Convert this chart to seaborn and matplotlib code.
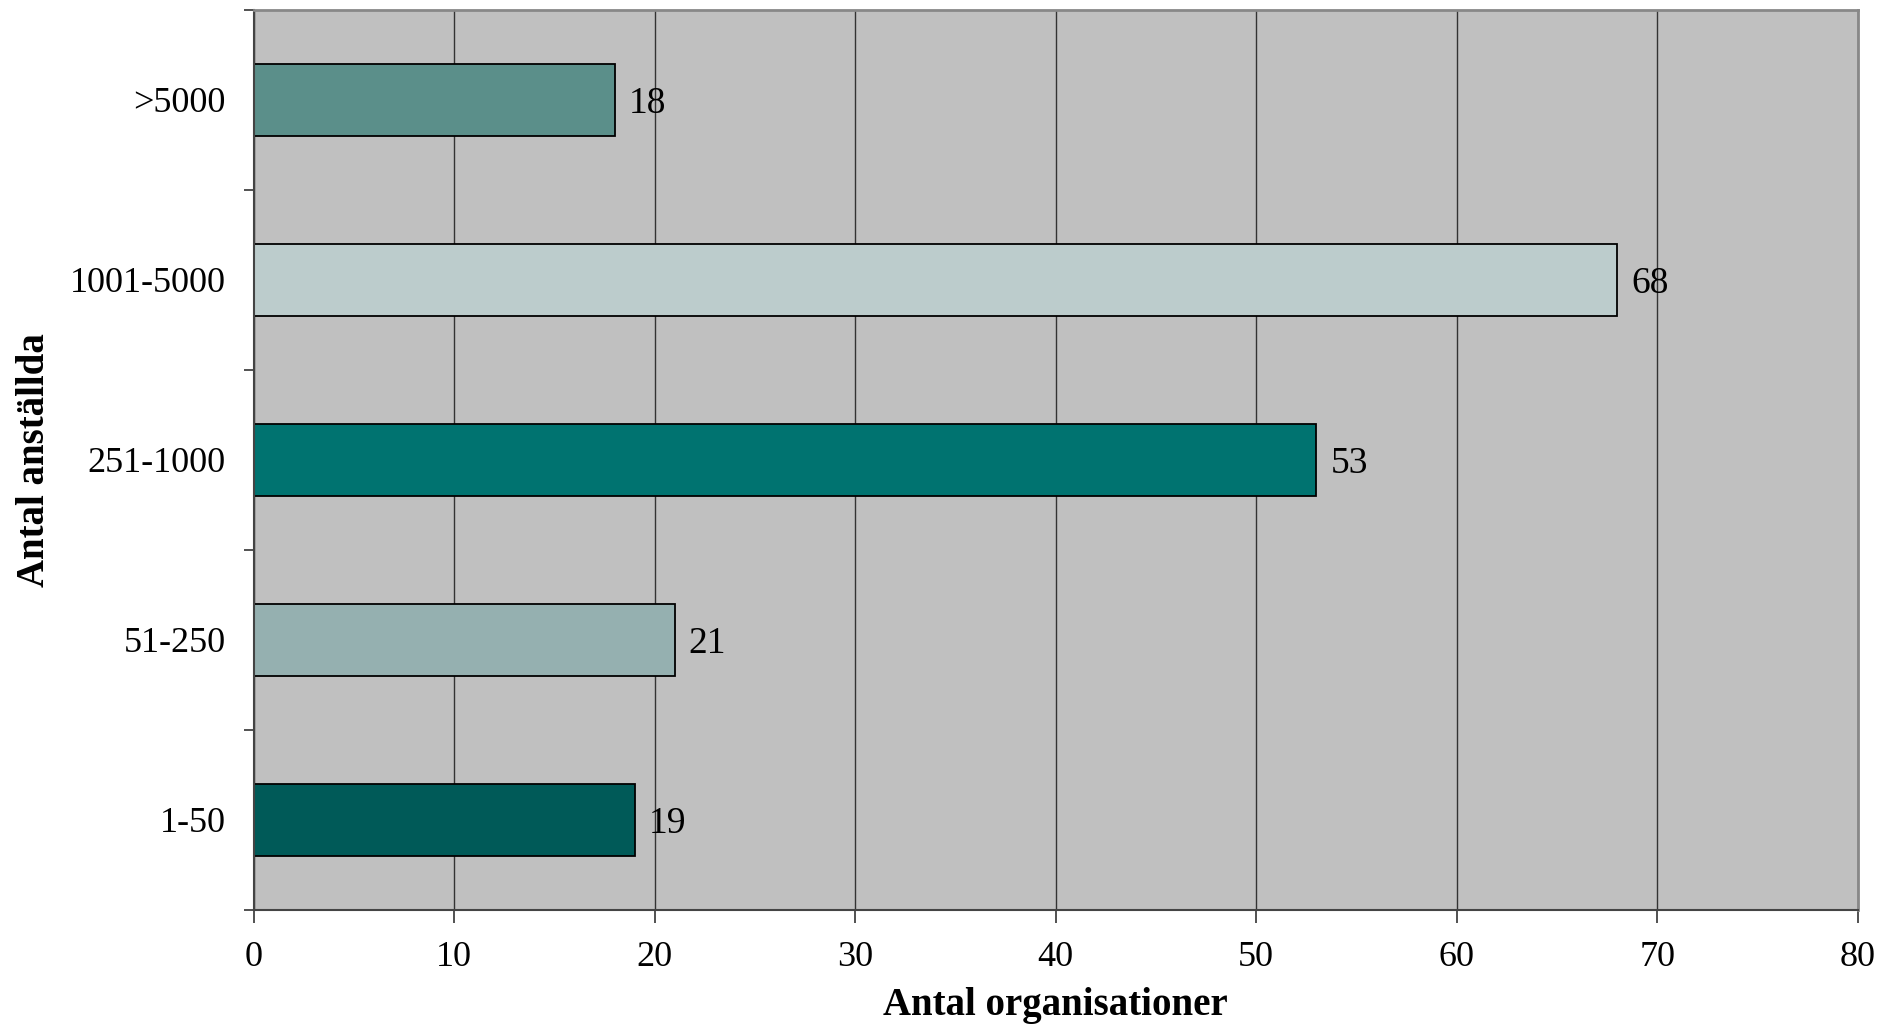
import matplotlib
matplotlib.use("Agg")
import matplotlib.pyplot as plt
import seaborn as sns
import pandas as pd
import numpy as np

categories = [">5000", "1001-5000", "251-1000", "51-250", "1-50"]
values = [18, 68, 53, 21, 19]
bar_colors = ["#5B8F8A", "#BCCCCC", "#007370", "#95B0B0", "#005A58"]
x_ticks = [0, 10, 20, 30, 40, 50, 60, 70, 80]
x_label = "Antal organisationer"
y_label = "Antal anställda"

sns.set_theme(style="white")
plt.rcParams['font.family'] = ['Liberation Serif', 'DejaVu Serif']

df = pd.DataFrame({"cat": categories, "val": values})

fig = plt.figure(figsize=(18.98, 10.26), dpi=100)
ax = fig.add_axes([0.1336, 0.1131, 0.9789 - 0.1336, 0.9907 - 0.1131])
ax.set_facecolor("#C0C0C0")

sns.barplot(data=df, x="val", y="cat", hue="cat", order=categories,
            hue_order=categories, palette=bar_colors, legend=False,
            width=0.4, edgecolor="black", linewidth=1.3, saturation=1, ax=ax)

for c in ax.containers:
    labels = ax.bar_label(c, padding=10, fontsize=27, color="black")
    for t in labels:
        t.set_verticalalignment("center_baseline")

ax.set_xlim(0, 80)
ax.set_ylim(4.5, -0.5)
ax.set_xticks(x_ticks)
ax.set_xticklabels([str(t) for t in x_ticks], fontsize=26)
ax.set_yticks(range(len(categories)))
ax.set_yticklabels(categories, fontsize=26)
ax.set_yticks(np.arange(-0.5, len(categories), 1.0), minor=True)
ax.tick_params(axis="y", which="major", length=0, pad=20, colors="black")
ax.tick_params(axis="y", which="minor", length=7, width=1.2, color="#333333", left=True)
ax.tick_params(axis="x", which="major", length=9, width=1.2,
               pad=13, bottom=True, labelcolor="black", color="#333333")

ax.xaxis.grid(True, color="#333333", linewidth=1.0)
ax.yaxis.grid(False)
ax.set_axisbelow(True)

for side in ["top", "right"]:
    ax.spines[side].set_color("#888888")
    ax.spines[side].set_linewidth(2)
for side in ["left", "bottom"]:
    ax.spines[side].set_color("#444444")
    ax.spines[side].set_linewidth(1.5)

ax.set_xlabel(x_label, fontsize=28, fontweight="bold", labelpad=10, color="black")
ax.set_ylabel(y_label, fontsize=28, fontweight="bold", labelpad=12, color="black")

fig.savefig("out.png", dpi=100, facecolor="white")
